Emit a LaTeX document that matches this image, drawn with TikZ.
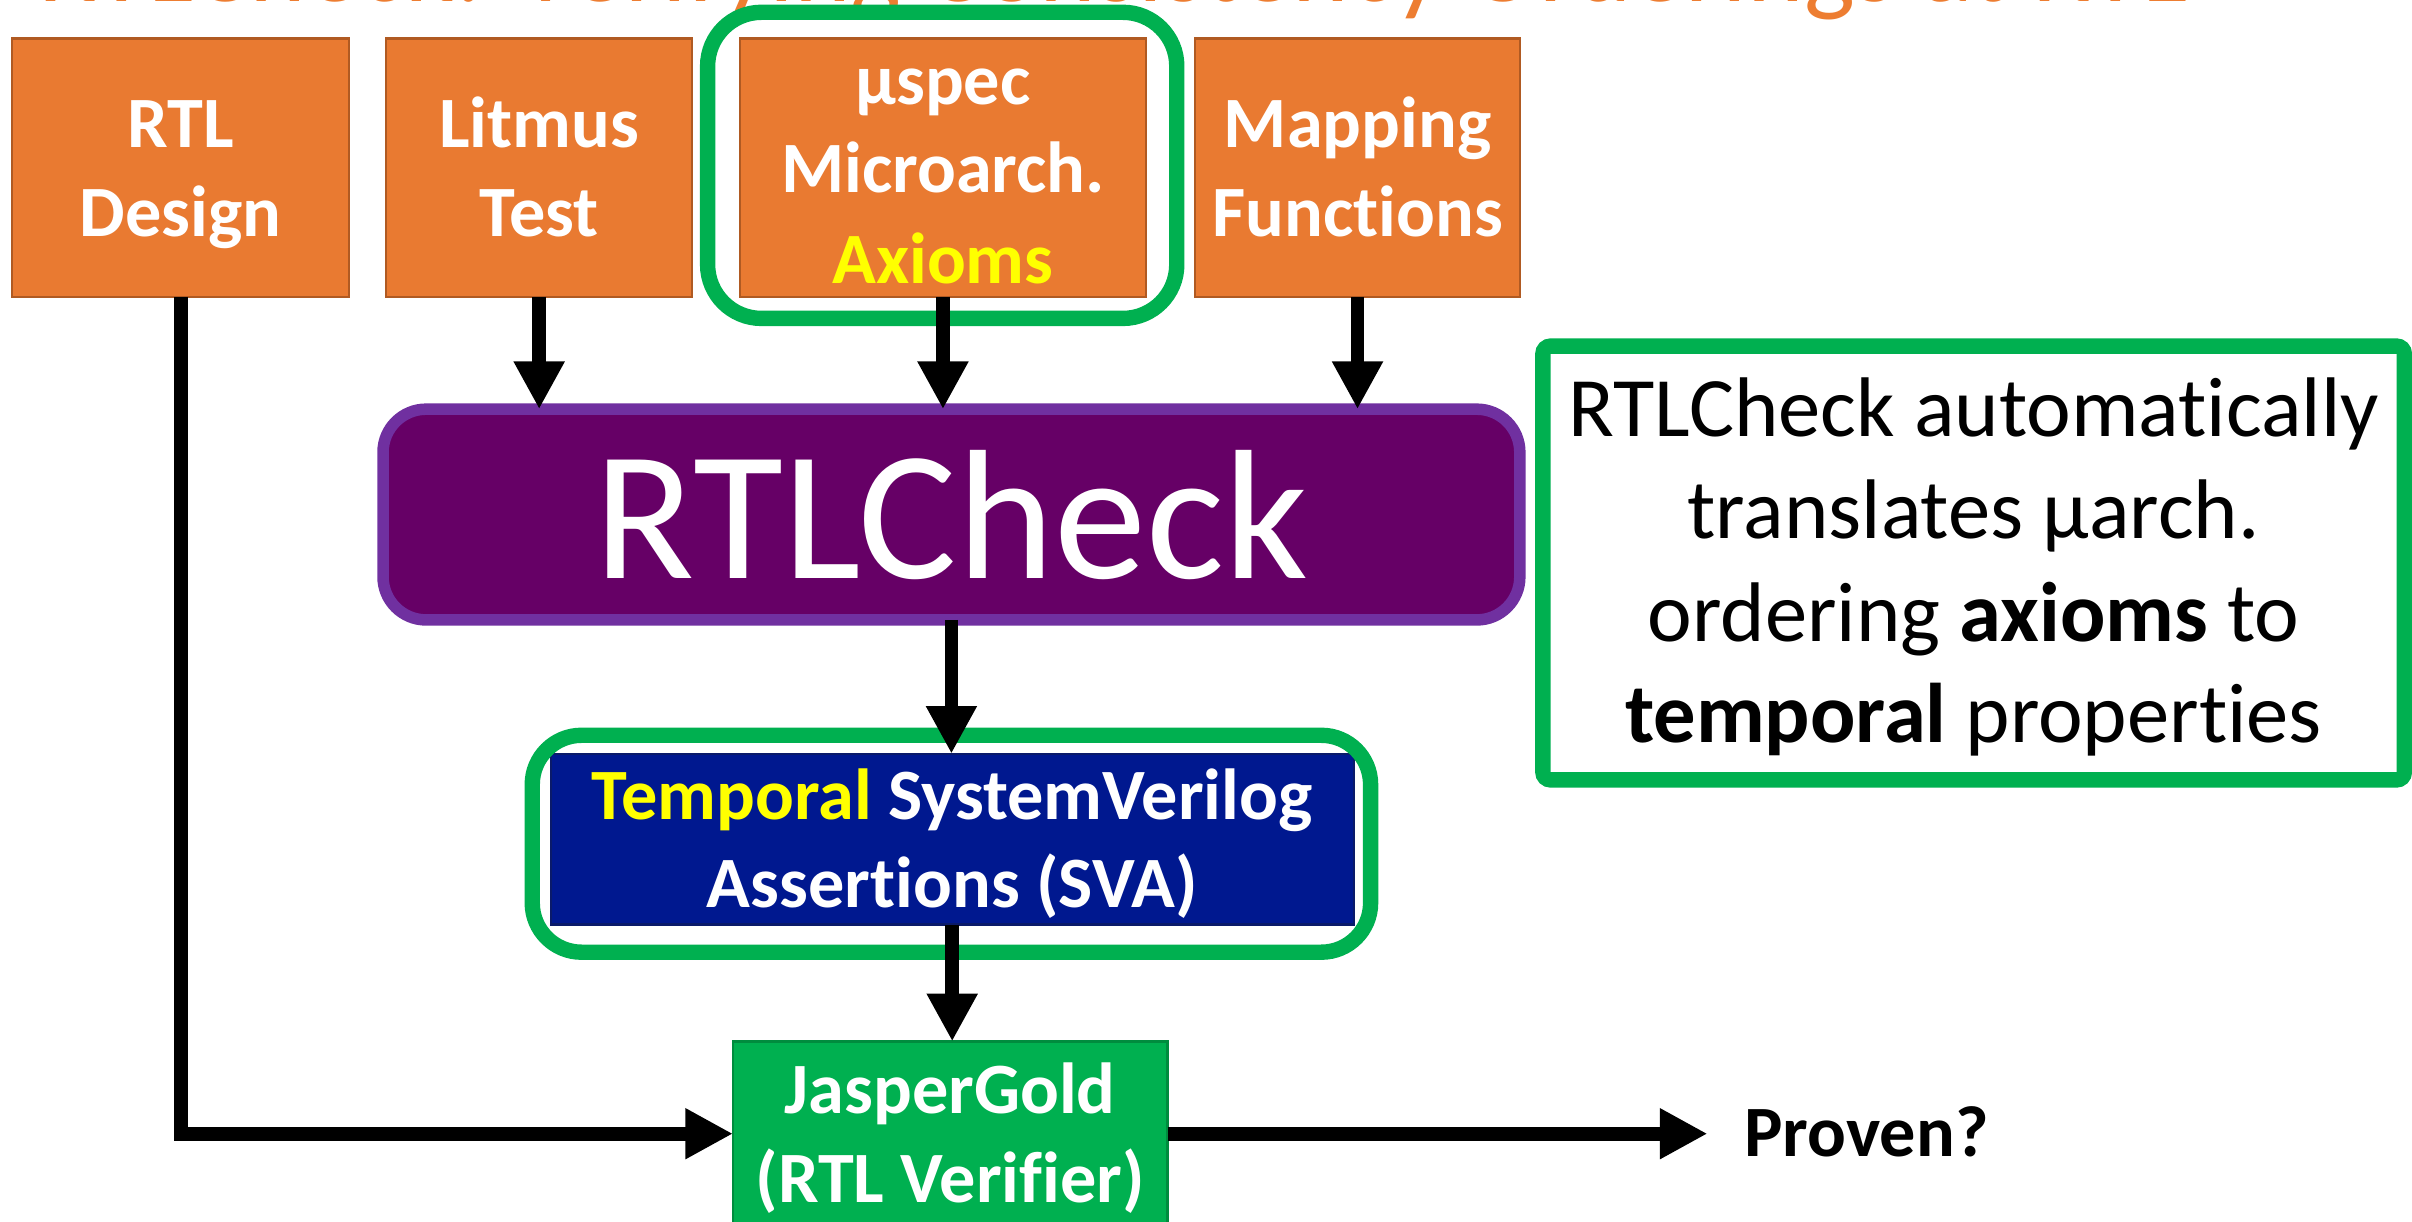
\documentclass[tikz,border=0pt]{standalone}
\usepackage{fontspec}
\setmainfont[Ligatures=NoCommon,RawFeature={-liga;-clig;-dlig;-calt}]{Carlito}
\usetikzlibrary{arrows.meta,calc}
\definecolor{orng}{HTML}{E97A31}
\definecolor{orngdk}{HTML}{B05A22}
\definecolor{grn}{HTML}{00B050}
\definecolor{grndk}{HTML}{008C3E}
\definecolor{purp}{HTML}{660066}
\definecolor{purpbd}{HTML}{7030A0}
\definecolor{navy}{HTML}{00188F}
\definecolor{navydk}{HTML}{0A1A6A}
\definecolor{ttl}{HTML}{ED7D31}
\definecolor{ylw}{HTML}{FFFF00}
\begin{document}
\begin{tikzpicture}[x=1pt,y=-1pt,inner sep=0pt,outer sep=0pt,
  inbox/.style={draw=orngdk,line width=1.5pt,fill=orng},
  wt/.style={text=white,font=\bfseries\fontsize{47}{58}\selectfont,anchor=base},
  frame/.style={draw=grn,line width=10pt},
  arr/.style={line width=9pt,-{Triangle[length=31pt,width=31pt]}}]
\useasboundingbox (0,0) rectangle (1568,794);
\clip (0,0) rectangle (1568,794);
\fill[white] (0,0) rectangle (1568,794);
% title (cut off at top)
\node[anchor=base west,text=ttl,font=\fontsize{70}{84}\selectfont] (title) at (25,1) {RTLCheck: Verifying Consistency Orderings at RTL};
% input boxes
\node[inbox,minimum width=219pt,minimum height=168pt] (rtl) at (117.5,109) {};
\node[inbox,minimum width=199pt,minimum height=168pt] (lit) at (350.5,109) {};
\node[inbox,minimum width=264pt,minimum height=168pt] (usp) at (613,109) {};
\node[inbox,minimum width=211pt,minimum height=168pt] (map) at (882.5,109) {};
\node[wt] (rtl1) at (117.5,96) {RTL};
\node[wt] (rtl2) at (117.5,154) {Design};
\node[wt] (lit1) at (350.5,96) {Litmus};
\node[wt] (lit2) at (350.5,154) {Test};
\node[wt] (usp1) at (613,68) {µspec};
\node[wt] (usp2) at (613,125) {Microarch.};
\node[wt,text=ylw] (usp3) at (613,184) {Axioms};
\node[wt] (map1) at (882.5,96) {Mapping};
\node[wt] (map2) at (882.5,154) {Functions};
\node[frame,rounded corners=35pt,minimum width=305pt,minimum height=199pt] (fr1) at (612.5,107.5) {};
% RTLCheck
\node[draw=purpbd,fill=purp,line width=7.5pt,rounded corners=28pt,minimum width=739pt,minimum height=137pt] (chk) at (618.5,334.5) {};
\node[anchor=base,text=white,font=\fontsize{120}{140}\selectfont] (chkt) at (618.5,376) {RTLCheck};
% SVA
\node[draw=navydk,line width=1.5pt,fill=navy,minimum width=522pt,minimum height=111pt] (sva) at (619,545.5) {};
\node[wt] (sva1) at (619,532.6) {\textcolor{ylw}{Temporal} SystemVerilog};
\node[wt] (sva2) at (619,590) {Assertions (SVA)};
\node[frame,rounded corners=32pt,minimum width=545pt,minimum height=141pt] (fr2) at (618.5,548.5) {};
% JasperGold
\node[draw=grndk,line width=1.5pt,fill=grn,minimum width=282.5pt,minimum height=153pt] (jg) at (617.75,753.5) {};
\node[wt] (jg1) at (617.75,724) {JasperGold};
\node[wt] (jg2) at (617.75,782) {(RTL Verifier)};
% Proven
\node[anchor=base west,font=\bfseries\fontsize{47}{58}\selectfont] (pv) at (1134,752) {Proven?};
\coordinate (pvtip) at (1110,737);
\coordinate (mid) at (0,737);
% note box
\node[frame,rounded corners=5pt,minimum width=560pt,minimum height=282pt] (note) at (1283,366) {};
\begin{scope}[every node/.style={anchor=base,font=\fontsize{55}{66}\selectfont}]
\node (n1) at (1283,284) {RTLCheck automatically};
\node (n2) at (1283,350) {translates µarch.};
\node (n3) at (1283,417) {ordering \textbf{axioms} to};
\node (n4) at (1283,483) {\textbf{temporal} properties};
\end{scope}
% connectors
\draw[arr] (lit.south) -- (lit.south |- chk.north);
\draw[arr] (usp.south) -- (usp.south |- chk.north);
\draw[arr] (map.south) -- (map.south |- chk.north);
\draw[arr] (chk.south) -- (chk.south |- sva.north);
\draw[arr] (sva.south) -- (sva.south |- jg.north);
\draw[arr] (rtl.south) |- (jg.west |- mid);
\draw[arr] (jg.east |- mid) -- (pvtip);
\end{tikzpicture}
\end{document}
